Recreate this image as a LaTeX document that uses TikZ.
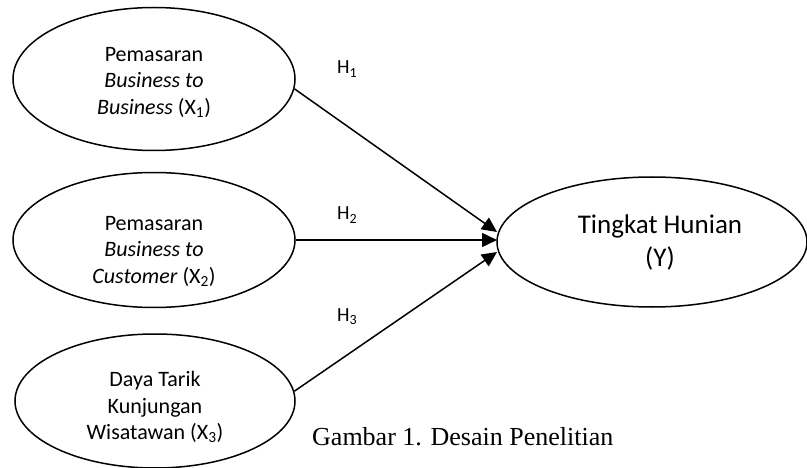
\documentclass[tikz,border=0pt]{standalone}
\usepackage{fontspec}
\setmainfont{Carlito}
\newfontfamily\capfont{Liberation Serif}
\usetikzlibrary{shapes.geometric,arrows.meta}
\begin{document}
\begin{tikzpicture}[x=1pt,y=-1pt,
  var/.style={draw, ellipse, line width=1.5pt, inner sep=0pt},
  vtext/.style={align=center, inner sep=0pt, font=\fontsize{22}{26.5}\selectfont},
  conn/.style={line width=1.5pt, -{Triangle[length=15pt,width=14pt]}},
  hlab/.style={font=\fontsize{20}{24}\selectfont, anchor=base west, inner sep=0pt}]
\useasboundingbox (0,0) rectangle (807,468);
\node[var, minimum width=282pt, minimum height=143pt] (e1) at (154,79) {};
\node[vtext] (e1t) at (154,82)
  {Pemasaran\\\textit{Business to}\\\textit{Business} (X\textsubscript{1})};
\node[var, minimum width=282pt, minimum height=135pt] (e2) at (154,240) {};
\node[vtext] (e2t) at (154,251)
  {Pemasaran\\\textit{Business to}\\\textit{Customer} (X\textsubscript{2})};
\node[var, minimum width=280pt, minimum height=134pt] (e3) at (155,401) {};
\node[vtext] (e3t) at (155,407)
  {Daya Tarik\\Kunjungan\\Wisatawan (X\textsubscript{3})};
\node[var, minimum width=310pt, minimum height=130pt] (y) at (652,242) {};
\node[vtext, font=\fontsize{27}{33}\selectfont] (yt) at (660,242) {Tingkat Hunian\\(Y)};
\coordinate (t1) at (497,232);
\coordinate (t2) at (497,240);
\coordinate (t3) at (497,252);
\draw[conn] (e1.-4) -- (t1);
\draw[conn] (e2.east) -- (t2);
\draw[conn] (e3.4) -- (t3);
\node[hlab] (h1) at (337,74) {H\textsubscript{1}};
\node[hlab] (h2) at (337,220) {H\textsubscript{2}};
\node[hlab] (h3) at (337,321) {H\textsubscript{3}};
\node[anchor=base west, inner sep=0pt, font=\capfont\fontsize{26}{30}\selectfont] (cap) at (312,445) {Gambar 1. Desain Penelitian};
\end{tikzpicture}
\end{document}
